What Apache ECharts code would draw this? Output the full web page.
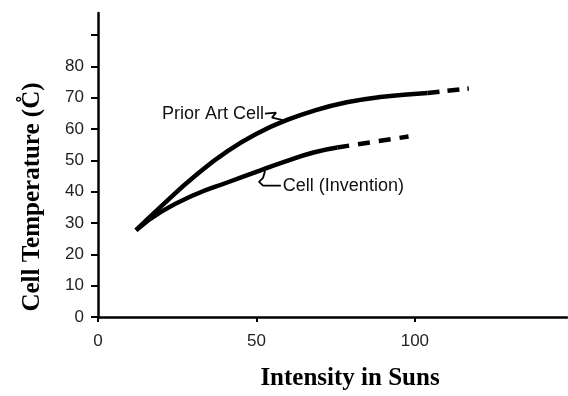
<!DOCTYPE html>
<html>
<head>
<meta charset="utf-8">
<script src="https://cdn.jsdelivr.net/npm/echarts@6/dist/echarts.min.js"></script>
<style>
  html, body { margin: 0; padding: 0; background: #fff; }
  #main { width: 568px; height: 396px; }
</style>
</head>
<body>
<div id="main"></div>
<script>
// 数据
var priorArtX = [12, 20, 30.5, 41, 51.5, 59, 68, 78.5, 89, 104];
var priorArtY = [27.7, 35.4, 44.9, 53.0, 59.2, 62.6, 65.8, 68.5, 70.2, 71.5];
var priorArtDashX = [104, 117];
var priorArtDashY = [71.5, 72.9];

var inventionX = [12, 20, 30.5, 41, 51.5, 59, 68, 75.5];
var inventionY = [27.7, 33.6, 39, 43.0, 46.9, 49.6, 52.5, 54.1];
var inventionDashX = [75.5, 98];
var inventionDashY = [54.1, 57.6];

// 标注文字和引线
var labelNames = ['Prior Art Cell', 'Cell (Invention)'];
var priorLeaderX = [52.7, 56.2, 54.9, 57.7, 59];
var priorLeaderY = [64.9, 65.2, 63.6, 63.0, 62.3];
var invLeaderX = [52.7, 52.1, 50.8, 52.1, 57.7];
var invLeaderY = [46.6, 44.4, 43.1, 41.9, 41.9];

var xTicks = [0, 50, 100];
var yTicks = [0, 10, 20, 30, 40, 50, 60, 70, 80];

function zip(xs, ys) {
    return xs.map(function (x, i) { return [x, ys[i]]; });
}

var myChart = echarts.init(document.getElementById('main'));

var lineW = 4.5;

option = {
    backgroundColor: '#fff',
    animation: false,
    grid: { left: 98, right: 1, top: 13, bottom: 75 },
    xAxis: {
        type: 'value',
        min: 0,
        max: 148,
        interval: 50,
        name: 'Intensity in Suns',
        nameLocation: 'middle',
        nameGap: 49,
        nameTextStyle: {
            fontFamily: 'Liberation Serif',
            fontWeight: 'bold',
            fontSize: 25,
            color: '#000',
            padding: [0, 0, 0, 35]
        },
        axisLine: { lineStyle: { color: '#000', width: 2.5 } },
        axisTick: { show: true, length: 5, lineStyle: { color: '#000', width: 2 } },
        axisLabel: {
            showMaxLabel: false,
            margin: 16,
            fontFamily: 'Liberation Sans',
            fontSize: 17,
            color: '#222',
            formatter: function (v) { return xTicks.indexOf(v) >= 0 ? v : ''; }
        },
        splitLine: { show: false }
    },
    yAxis: {
        type: 'value',
        min: 0,
        max: 97,
        interval: 10,
        name: 'Cell Temperature (C\u030A)',
        nameLocation: 'middle',
        nameGap: 53,
        nameTextStyle: {
            fontFamily: 'Liberation Serif',
            fontWeight: 'bold',
            fontSize: 25,
            color: '#000',
            padding: [0, 64, 0, 0]
        },
        axisLine: { lineStyle: { color: '#000', width: 2.5 } },
        axisTick: { show: true, length: 7, lineStyle: { color: '#000', width: 2 } },
        axisLabel: {
            showMaxLabel: false,
            margin: 14,
            fontFamily: 'Liberation Sans',
            fontSize: 17,
            color: '#222',
            formatter: function (v) { return yTicks.indexOf(v) >= 0 ? v : ''; }
        },
        splitLine: { show: false }
    },
    series: [
        {
            name: labelNames[0],
            type: 'line',
            smooth: true,
            symbol: 'none',
            lineStyle: { color: '#000', width: lineW },
            data: zip(priorArtX, priorArtY)
        },
        {
            type: 'line',
            symbol: 'none',
            lineStyle: { color: '#000', width: lineW, type: [12, 8] },
            data: zip(priorArtDashX, priorArtDashY)
        },
        {
            name: labelNames[1],
            type: 'line',
            smooth: true,
            symbol: 'none',
            lineStyle: { color: '#000', width: lineW },
            data: zip(inventionX, inventionY)
        },
        {
            type: 'line',
            symbol: 'none',
            lineStyle: { color: '#000', width: lineW, type: [12, 9] },
            data: zip(inventionDashX, inventionDashY)
        },
        // 引线 + 文字
        {
            type: 'line',
            symbol: 'none',
            lineStyle: { color: '#000', width: 1.8 },
            data: zip(priorLeaderX, priorLeaderY),
            markPoint: {
                symbol: 'circle',
                symbolSize: 0,
                label: {
                    show: true,
                    position: 'left',
                    distance: 1,
                    formatter: labelNames[0],
                    fontFamily: 'Liberation Sans',
                    fontSize: 18,
                    color: '#111'
                },
                data: [{ coord: [priorLeaderX[0], priorLeaderY[0]] }]
            }
        },
        {
            type: 'line',
            symbol: 'none',
            lineStyle: { color: '#000', width: 1.8 },
            data: zip(invLeaderX, invLeaderY),
            markPoint: {
                symbol: 'circle',
                symbolSize: 0,
                label: {
                    show: true,
                    position: 'right',
                    distance: 2,
                    formatter: labelNames[1],
                    fontFamily: 'Liberation Sans',
                    fontSize: 18,
                    color: '#111'
                },
                data: [{ coord: [invLeaderX[4], invLeaderY[4]] }]
            }
        }
    ]
};

myChart.setOption(option);
</script>
</body>
</html>
